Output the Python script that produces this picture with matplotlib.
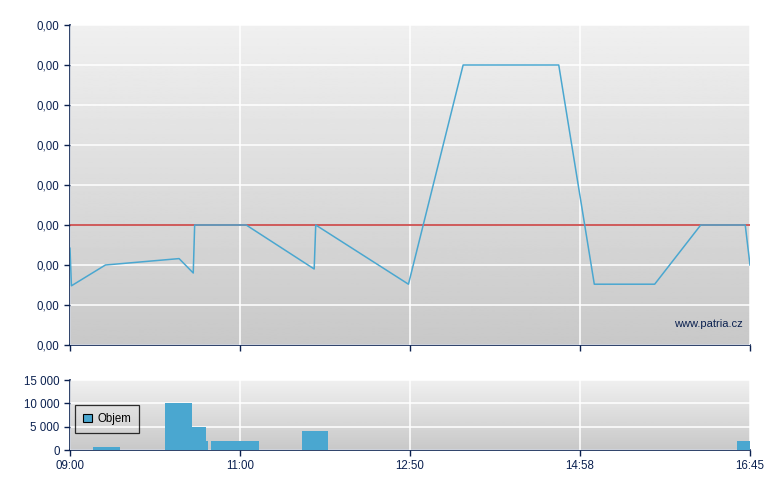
"""
Intraday price and volume chart (patria.cz style)
"""
import numpy as np
import matplotlib
matplotlib.use("Agg")
import matplotlib.pyplot as plt
from matplotlib.ticker import FuncFormatter, FixedLocator
from matplotlib.patches import Rectangle

plt.rcParams['font.family'] = ['Liberation Sans', 'DejaVu Sans']

# tick times on the x axis (evenly spaced on the chart)
tick_labels = ["09:00", "11:00", "12:50", "14:58", "16:45"]

# price line
price_times = ["09:00", "09:01", "09:25", "10:17", "10:27", "10:28", "11:04",
               "11:48", "11:49", "12:49", "13:30", "14:42", "15:07", "15:45",
               "16:14", "16:42", "16:45"]
price_values = [0.00121, 0.00074, 0.00100, 0.00108, 0.00090, 0.00150, 0.00150,
                0.00095, 0.00150, 0.00076, 0.00350, 0.00350, 0.00076, 0.00076,
                0.00150, 0.00150, 0.00100]
ref_price = 0.0015

# volume bars (start, end, volume)
vol_start = ["09:16", "10:07", "10:26", "10:36", "10:39.5", "11:40", "16:37"]
vol_end = ["09:35", "10:26", "10:36", "10:37.4", "11:12", "11:57", "16:45"]
vol_values = [700, 10000, 5000, 2000, 2000, 4000, 2000]

navy = '#0b2150'
blue = '#4aa7d0'


def minutes(t):
    h, m = t.split(":")
    return int(h) * 60 + float(m)


tick_min = np.array([minutes(t) for t in tick_labels])
tick_pos = np.arange(len(tick_labels))


def to_pos(times):
    return np.interp([minutes(t) for t in times], tick_min, tick_pos)


def gradient(ax):
    grad = np.linspace(0.94, 0.785, 256).reshape(-1, 1)
    ax.imshow(grad, cmap='gray', vmin=0, vmax=1, aspect='auto',
              extent=(0, 1, 0, 1), transform=ax.transAxes, zorder=0)


def style(ax):
    for s in ['top', 'right']:
        ax.spines[s].set_visible(False)
    for s in ['left', 'bottom']:
        ax.spines[s].set_color(navy)
        ax.spines[s].set_linewidth(1.2)
    ax.tick_params(colors=navy, labelcolor=navy, labelsize=8.3, length=4, width=1)
    ax.grid(True, color='white', linewidth=1.1, zorder=1)
    ax.set_axisbelow(False)


fig = plt.figure(figsize=(7.8, 4.9), dpi=100)
W, H = 780, 490
ax = fig.add_axes([70 / W, (H - 345) / H, 680 / W, 320 / H])
axv = fig.add_axes([70 / W, (H - 450) / H, 680 / W, 70 / H])

# ---- price panel
gradient(ax)
style(ax)
ax.axhline(ref_price, color='#c43030', linewidth=1.1, zorder=2.6)
ax.plot(to_pos(price_times), price_values, color=blue, linewidth=1.1, zorder=3)
ax.set_xlim(0, 4)
ax.set_ylim(0, 0.004)
ax.yaxis.set_major_locator(FixedLocator(np.arange(0, 0.00401, 0.0005)))
ax.yaxis.set_major_formatter(FuncFormatter(lambda v, p: f"{v:.2f}".replace('.', ',')))
ax.set_xticks(tick_pos)
ax.set_xticklabels([])
ax.text(0.99, 0.065, "www.patria.cz", transform=ax.transAxes, ha='right',
        va='center', color=navy, fontsize=8, zorder=4)

# ---- volume panel
gradient(axv)
style(axv)
s = to_pos(vol_start)
e = to_pos(vol_end)
axv.bar(s, vol_values, width=e - s, align='edge', color=blue, zorder=3,
        label='Objem')
axv.set_xlim(0, 4)
axv.set_ylim(0, 15000)
axv.set_yticks([0, 5000, 10000, 15000])
axv.yaxis.set_major_formatter(FuncFormatter(lambda v, p: f"{int(v):,}".replace(',', ' ')))
axv.set_xticks(tick_pos)
axv.set_xticklabels(tick_labels)

handle = Rectangle((0, 0), 1, 1, facecolor=blue, edgecolor='black', linewidth=0.8)
leg = axv.legend([handle], ['Objem'], loc='upper left', bbox_to_anchor=(0.0075, 0.645),
                 frameon=True, fancybox=False, fontsize=8.3, handlelength=0.8,
                 handleheight=0.8, handletextpad=0.4, borderpad=0.7,
                 borderaxespad=0)
leg.get_frame().set_edgecolor('black')
leg.get_frame().set_facecolor('none')
leg.get_frame().set_linewidth(0.9)
leg.set_zorder(5)

fig.savefig("out.png", dpi=100)
